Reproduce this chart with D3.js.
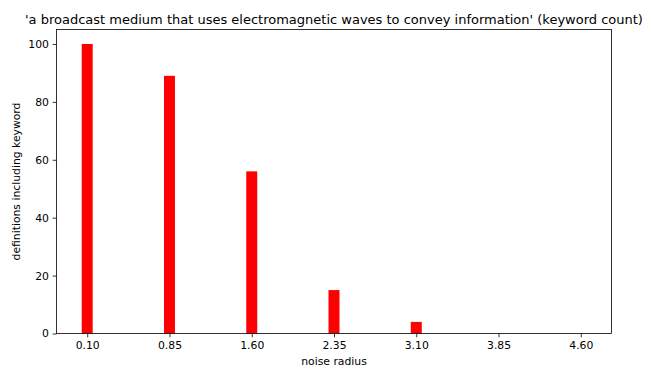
<!DOCTYPE html>
<html>
<head>
<meta charset="utf-8">
<script src="https://cdn.jsdelivr.net/npm/d3@7"></script>
<style>
  body { margin: 0; background: #fff; }
  text { font-family: "DejaVu Sans", sans-serif; fill: #000; }
</style>
</head>
<body>
<script>
// data
var radii = [0.10, 0.85, 1.60, 2.35, 3.10, 3.85, 4.60];
var counts = [100, 89, 56, 15, 4, 0, 0];
var tickLabels = ["0.10", "0.85", "1.60", "2.35", "3.10", "3.85", "4.60"];
var yTicks = [0, 20, 40, 60, 80, 100];

// dimensions
var width = 651, height = 373;
var margin = { top: 29.5, right: 39.5, bottom: 39.5, left: 56.5 };
var barWidth = 0.1;

var svg = d3.select("body").append("svg")
  .attr("width", width)
  .attr("height", height);

// x domain with matplotlib-like 5% margins
var lo = d3.min(radii) - barWidth / 2, hi = d3.max(radii) + barWidth / 2;
var pad = (hi - lo) * 0.05;
var x = d3.scaleLinear()
  .domain([lo - pad, hi + pad])
  .range([margin.left, width - margin.right]);

var y = d3.scaleLinear()
  .domain([0, 105])
  .range([height - margin.bottom, margin.top]);

// bars
svg.selectAll(".bar")
  .data(radii)
  .enter()
  .append("rect")
  .attr("class", "bar")
  .attr("x", function (d) { return x(d - barWidth / 2); })
  .attr("width", function (d) { return x(d + barWidth / 2) - x(d - barWidth / 2); })
  .attr("y", function (d, i) { return y(counts[i]); })
  .attr("height", function (d, i) { return y(0) - y(counts[i]); })
  .style("fill", "#ff0000");

// axes
var xAxis = d3.axisBottom(x)
  .tickValues(radii)
  .tickFormat(function (d, i) { return tickLabels[i]; })
  .tickSize(3.8)
  .tickPadding(3.8);
var yAxis = d3.axisLeft(y)
  .tickValues(yTicks)
  .tickSize(3.8)
  .tickPadding(3.8);

var gx = svg.append("g")
  .attr("transform", "translate(0," + y(0) + ")")
  .call(xAxis);
var gy = svg.append("g")
  .attr("transform", "translate(" + margin.left + ",0)")
  .call(yAxis);

[gx, gy].forEach(function (g) {
  g.select(".domain").remove();
  g.selectAll("line").attr("stroke", "#000").attr("stroke-width", 0.8);
  g.selectAll("text").attr("font-size", "10.8px").attr("font-family", "DejaVu Sans, sans-serif").attr("fill", "#000");
});

// frame
svg.append("rect")
  .attr("x", margin.left)
  .attr("y", margin.top)
  .attr("width", width - margin.left - margin.right)
  .attr("height", height - margin.top - margin.bottom)
  .style("fill", "none")
  .style("stroke", "#000")
  .style("stroke-width", 0.8);

// title
svg.append("text")
  .attr("x", (margin.left + width - margin.right) / 2)
  .attr("y", 24)
  .attr("text-anchor", "middle")
  .attr("font-size", "13px")
  .text("'a broadcast medium that uses electromagnetic waves to convey information' (keyword count)");

// axis labels
svg.append("text")
  .attr("x", (margin.left + width - margin.right) / 2)
  .attr("y", 365)
  .attr("text-anchor", "middle")
  .attr("font-size", "10.8px")
  .text("noise radius");

svg.append("text")
  .attr("transform", "translate(20," + (margin.top + height - margin.bottom) / 2 + ") rotate(-90)")
  .attr("text-anchor", "middle")
  .attr("font-size", "10.8px")
  .text("definitions including keyword");
</script>
</body>
</html>
